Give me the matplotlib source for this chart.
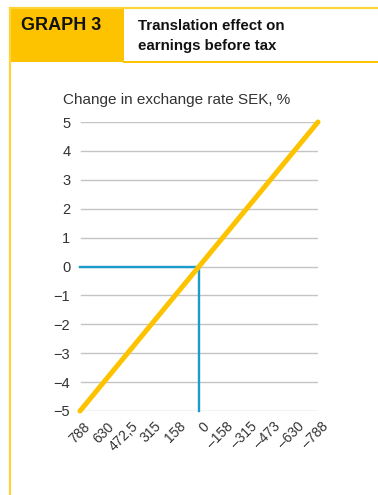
import matplotlib
matplotlib.use("Agg")
import matplotlib.pyplot as plt
from matplotlib.patches import Rectangle
from matplotlib.lines import Line2D
from matplotlib.transforms import ScaledTranslation

plt.rcParams["font.family"] = ["Liberation Sans", "DejaVu Sans"]

# Translation effect, SEK m, for each exchange rate change
effect_labels = ["788", "630", "472,5", "315", "158", "0",
                 "–158", "–315", "–473", "–630", "–788"]
rate_change = [-5, -4, -3, -2, -1, 0, 1, 2, 3, 4, 5]
y_ticks = [-5, -4, -3, -2, -1, 0, 1, 2, 3, 4, 5]
zero_index = effect_labels.index("0")

YELLOW = "#FDC300"
FRAME = "#FFD43B"
BLUE = "#1A9BCB"
GRID = "#C4C4C4"

W, H = 378, 495
fig = plt.figure(figsize=(W / 100, H / 100), dpi=100)


def fx(px):
    return px / W


def fy(py):
    return 1 - py / H


# frame and header
fig.add_artist(Rectangle((fx(10), fy(62)), fx(114), 54 / H,
                         transform=fig.transFigure, color=YELLOW, lw=0))
fig.add_artist(Line2D([fx(10), 1], [fy(7.5), fy(7.5)], color=FRAME, lw=1.6,
                      transform=fig.transFigure))
fig.add_artist(Line2D([fx(10), fx(10)], [fy(7.5), 0], color=FRAME, lw=1.6,
                      transform=fig.transFigure))
fig.add_artist(Line2D([fx(124), 1], [fy(61.5), fy(61.5)], color=YELLOW, lw=1.4,
                      transform=fig.transFigure))
fig.text(fx(21), fy(25), "GRAPH 3", fontsize=13, fontweight="bold",
         va="center", ha="left", color="#111111")
fig.text(fx(138), fy(36), "Translation effect on\nearnings before tax",
         fontsize=10.8, fontweight="bold", va="center", ha="left",
         linespacing=1.5, color="#111111")
fig.text(fx(63), fy(100), "Change in exchange rate SEK, %", fontsize=11,
         color="#333333", va="center", ha="left")

# plot area
left, right, top, bottom = 80, 318, 122, 411
ax = fig.add_axes([fx(left), fy(bottom), (right - left) / W, (bottom - top) / H])
x = list(range(len(effect_labels)))
ax.set_xlim(0, len(x) - 1)
ax.set_ylim(min(y_ticks), max(y_ticks))
for s in ax.spines.values():
    s.set_visible(False)
for t in y_ticks:
    ax.axhline(t, color=GRID, lw=1.0, zorder=1, xmin=0.005)

ax.plot([0, zero_index], [0, 0], color=BLUE, lw=1.7, zorder=2, clip_on=False)
ax.plot([zero_index, zero_index], [min(y_ticks), 0], color=BLUE, lw=1.7,
        zorder=2, clip_on=False)
ax.plot(x, rate_change, color=YELLOW, lw=3.6, solid_capstyle="round",
        zorder=3, clip_on=False)

ax.set_yticks(y_ticks)
ax.set_yticklabels([str(v).replace("-", "−") for v in y_ticks])
ax.set_xticks(x)
ax.set_xticklabels(effect_labels, rotation=45, ha="right",
                   rotation_mode="anchor")
ax.tick_params(axis="y", length=0, labelsize=10.5, colors="#333333", pad=7)
ax.tick_params(axis="x", length=0, labelsize=10, colors="#333333", pad=6)

# nudge the slanted labels right so they end under their tick
shift = ScaledTranslation(3 / 100, 0, fig.dpi_scale_trans)
for lbl in ax.get_xticklabels():
    lbl.set_transform(lbl.get_transform() + shift)

fig.savefig("out.png", dpi=100)
